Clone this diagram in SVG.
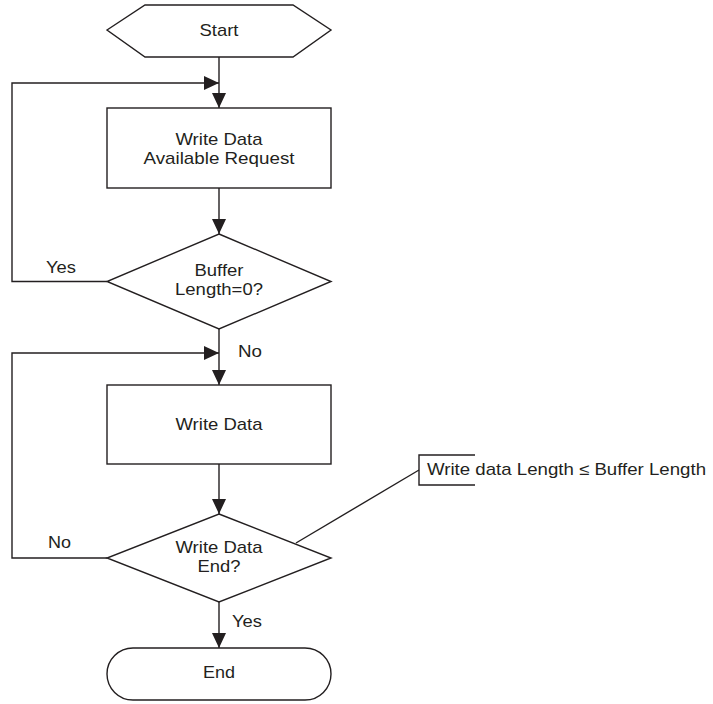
<svg xmlns="http://www.w3.org/2000/svg" width="713" height="704" viewBox="0 0 713 704">
<style>
.shape{fill:#fff;stroke:#231f20;stroke-width:1.4}
.line{fill:none;stroke:#231f20;stroke-width:1.4}
.arrow{marker-end:url(#ah)}
text{font-family:"Liberation Sans",Arial,sans-serif;font-size:16.4px;fill:#231f20}
.c{text-anchor:middle}
</style>
<defs>
<marker id="ah" markerUnits="userSpaceOnUse" markerWidth="15" markerHeight="14" refX="15" refY="7" orient="auto">
<path d="M0,0 L15,7 L0,14 z" fill="#231f20"/>
</marker>
</defs>
<rect width="713" height="704" fill="#fff"/>
<g id="connectors">
<path class="line arrow" d="M219,57 V108"/>
<path class="line arrow" d="M107,281.5 H12 V83 H219"/>
<path class="line arrow" d="M219,188 V234"/>
<path class="line arrow" d="M219,329 V385"/>
<path class="line arrow" d="M107,558 H12 V353 H219"/>
<path class="line arrow" d="M219,464 V514"/>
<path class="line arrow" d="M219,602 V648"/>
<path class="line" d="M296,543 L419,470"/>
</g>
<g id="start">
<polygon class="shape" points="107,30 145,5 293,5 331,30 293,57 145,57"/>
<text class="c" x="219" y="36" textLength="39" lengthAdjust="spacingAndGlyphs">Start</text>
</g>
<g id="request">
<rect class="shape" x="107" y="108" width="224" height="80"/>
<text class="c" x="219" y="145" textLength="87" lengthAdjust="spacingAndGlyphs">Write Data</text>
<text class="c" x="219" y="164" textLength="151" lengthAdjust="spacingAndGlyphs">Available Request</text>
</g>
<g id="check-buffer">
<polygon class="shape" points="219,234 331,281.5 219,329 107,281.5"/>
<text class="c" x="219" y="276" textLength="49" lengthAdjust="spacingAndGlyphs">Buffer</text>
<text class="c" x="219" y="295" textLength="88" lengthAdjust="spacingAndGlyphs">Length=0?</text>
</g>
<g id="label-yes1"><text x="46" y="273" textLength="30" lengthAdjust="spacingAndGlyphs">Yes</text></g>
<g id="label-no1"><text x="238" y="357" textLength="24" lengthAdjust="spacingAndGlyphs">No</text></g>
<g id="write">
<rect class="shape" x="107" y="385" width="224" height="79"/>
<text class="c" x="219" y="430" textLength="87" lengthAdjust="spacingAndGlyphs">Write Data</text>
</g>
<g id="check-end">
<polygon class="shape" points="219,514 331,558 219,602 107,558"/>
<text class="c" x="219" y="553" textLength="87" lengthAdjust="spacingAndGlyphs">Write Data</text>
<text class="c" x="219" y="572" textLength="43" lengthAdjust="spacingAndGlyphs">End?</text>
</g>
<g id="label-no2"><text x="48" y="548" textLength="23" lengthAdjust="spacingAndGlyphs">No</text></g>
<g id="label-yes2"><text x="232" y="627" textLength="30" lengthAdjust="spacingAndGlyphs">Yes</text></g>
<g id="end">
<rect class="shape" x="107" y="648" width="224" height="52" rx="26" ry="26"/>
<text class="c" x="219" y="678" textLength="32" lengthAdjust="spacingAndGlyphs">End</text>
</g>
<g id="note">
<path class="line" d="M475,455 H419 V485 H475"/>
<text x="427" y="475" textLength="279" lengthAdjust="spacingAndGlyphs">Write data Length ≤ Buffer Length</text>
</g>
</svg>
